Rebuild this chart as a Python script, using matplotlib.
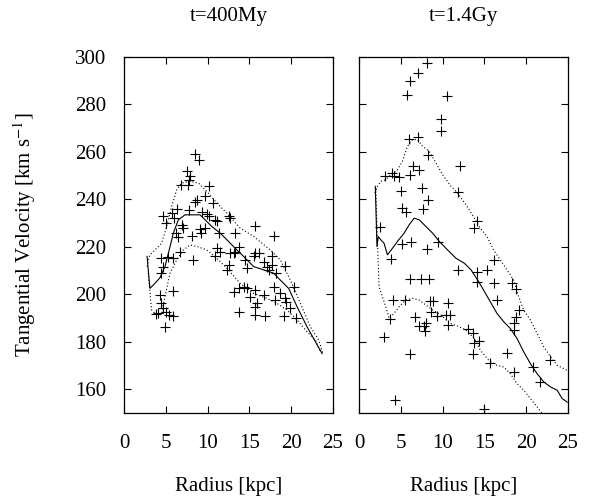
import matplotlib
matplotlib.use("Agg")
import matplotlib.pyplot as plt

plt.rcParams['font.family'] = ['Liberation Serif', 'DejaVu Serif']
plt.rcParams['mathtext.fontset'] = 'stix'

# ---------------- left panel: t=400My ----------------
l_mean_r = [2.76, 3.1, 3.7, 4.3, 4.9, 5.5, 5.9, 6.5, 7.3, 8.3, 9.1, 9.7, 10.5, 11.5, 12.5,
            13.5, 14.3, 15.5, 16.7, 17.9, 18.7, 19.7, 20.7, 21.9, 22.9, 23.7]
l_mean_v = [216, 202.5, 204.6, 207, 211.7, 220, 225.8, 231.4, 233.5, 233.5, 233.5, 231.4, 228.6,
            225.8, 222.3, 218.7, 216, 211.7, 210.3, 208.9, 206, 202.5, 194.8, 186.3, 180, 175]

l_up_r = [2.76, 3.1, 3.7, 4.5, 5.1, 5.7, 6.3, 6.9, 7.9, 8.9, 9.9, 11.1, 12.3, 13.9, 15.5,
          17.5, 18.7, 19.9, 21.1, 22.3, 23.3, 23.8]
l_up_v = [211.7, 216.6, 218.7, 221.5, 228.6, 237, 244, 246.9, 247.6, 246.9, 243.4, 238.5, 234.2,
          227.9, 224.4, 218.7, 214.5, 206, 196.2, 186.3, 180.7, 175]

l_lo_r = [2.9, 3.3, 3.9, 4.5, 4.9, 5.5, 6.3, 7.1, 7.9, 8.9, 9.9, 11.1, 12.3, 13.9, 15.5,
          17.1, 18.3, 19.5, 20.7, 21.9, 22.9, 23.5]
l_lo_v = [209, 193.4, 191.3, 192, 199, 208.9, 214.5, 218.7, 220.8, 220, 218.7, 215.2, 211, 204.6,
          200.4, 198.3, 196.2, 193.4, 189.2, 184.2, 180.7, 175.8]

l_pts_r = [8.48, 8.96, 7.5, 7.9, 7.8, 6.76, 7.68, 10.2, 8.7, 9.7, 8.5, 10.7, 4.68, 5.0, 5.76,
           6.28, 5.96, 7.8, 9.28, 9.88, 10.2, 10.9, 11.1, 12.5, 12.7, 15.7, 17.9, 6.88, 7.0,
           6.2, 6.5, 8.1, 9.08, 9.7, 9.16, 11.4, 13.3, 6.68, 5.88, 5.28, 4.48, 4.68, 4.48, 8.2,
           11.1, 11.5, 10.9, 12.7, 13.1, 13.8, 12.3, 12.6, 13.3, 14.5, 14.7, 15.7, 16.1, 15.5,
           16.7, 17.1, 17.3, 17.7, 17.7, 18.2, 19.3, 17.9, 18.1, 18.7, 19.3, 19.4, 20.3, 13.1,
           13.7, 14.3, 14.7, 15.1, 15.7, 15.7, 15.7, 15.9, 16.7, 13.7, 16.9, 19.1, 19.9, 20.6,
           4.28, 4.48, 4.68, 5.08, 5.4, 5.88, 4.08, 3.8, 4.88, 5.88]
l_pts_v = [259.2, 256.5, 252.1, 249.7, 248.3, 246.2, 245.9, 245.5, 239.9, 241.5, 238.7, 238.5,
           232.8, 230, 234.2, 235.9, 232.1, 235.6, 234.6, 233.9, 232.8, 231.4, 230.7, 233.1,
           232.1, 228.9, 224.4, 229.4, 228, 226, 224.1, 224.4, 227.5, 228, 226, 226, 225.8, 218,
           215.2, 215.9, 215.2, 211.7, 208.9, 214.5, 219.4, 218, 216, 217.3, 217.3, 220, 210.3,
           212.4, 218, 214.5, 211, 217.3, 217.3, 216, 213.8, 211.7, 210.3, 212.4, 216, 208.9,
           212, 203, 197.6, 200.4, 198.3, 196.9, 203.2, 201.1, 202.5, 203.2, 202.5, 199, 201.8,
           194.8, 191.3, 196.2, 199.7, 192.7, 190.8, 190.8, 194.1, 189.9, 199.7, 196.2, 194.1,
           192.7, 191.3, 190.8, 192.2, 191.7, 186.1, 201.5]

# ---------------- right panel: t=1.4Gy ----------------
r_mean_r = [1.95, 2.15, 2.3, 2.6, 3.0, 3.4, 4.0, 4.6, 5.4, 6.0, 6.6, 7.2, 8.0, 8.8, 9.6, 10.6,
            11.6, 12.6, 13.4, 14.2, 14.9, 15.7, 16.5, 17.3, 18.1, 18.9, 19.7, 20.5, 21.3, 22.1,
            22.9, 23.7, 24.3, 24.9]
r_mean_v = [245.5, 220, 224.4, 223, 221.5, 216.6, 219.4, 222.3, 225.8, 229.3, 232.1, 231.4,
            228.6, 225.8, 222.3, 218.7, 215.2, 213.1, 210.3, 206, 201.8, 196.9, 192, 188.5,
            185.6, 181.4, 175.8, 170.8, 166.6, 163.1, 161, 159.6, 156.1, 154.6]

r_up_r = [1.9, 2.2, 2.6, 3.2, 3.8, 4.6, 5.2, 5.8, 6.4, 7.0, 7.6, 8.4, 9.2, 10.0, 11.0, 11.8,
          12.8, 13.8, 14.5, 15.3, 16.1, 16.9, 17.7, 18.5, 19.1, 19.7, 20.5, 21.3, 22.1, 22.9,
          23.7, 24.9]
r_up_v = [242.7, 245.5, 247.6, 248.3, 250.4, 252.5, 256.1, 262.4, 265.2, 265.2, 262.4, 260.3,
          255.4, 250.4, 245.5, 242.7, 237.7, 232.1, 227.9, 224.4, 218.7, 214.5, 210.3, 206, 199,
          193.4, 189.2, 183.5, 177.9, 173.7, 170.1, 168]

r_lo_r = [2.0, 2.2, 2.4, 2.8, 3.2, 3.6, 4.2, 4.8, 5.6, 6.4, 7.2, 8.0, 8.8, 9.8, 10.9, 12.0,
          12.8, 13.8, 14.5, 15.5, 16.5, 17.3, 18.1, 18.9, 19.7, 20.5, 21.3, 21.9]
r_lo_v = [244.8, 223, 203.2, 199, 194.8, 189.9, 192, 194.8, 197.6, 198.3, 197.6, 195.5, 193.4,
          191.3, 187.8, 186.3, 184.9, 181.4, 176.5, 172.3, 170.1, 169.4, 166.6, 162.4, 159.6,
          156.1, 152.6, 149.8]

r_pts_r = [8.11, 7.0, 6.12, 5.73, 10.5, 9.78, 9.78, 6.0, 7.0, 8.27, 12.09, 6.4, 6.12, 7.2, 3.1,
           4.0, 4.2, 4.8, 5.0, 7.5, 11.8, 8.2, 5.2, 5.6, 7.6, 14.1, 13.8, 2.5, 5.1, 6.2, 8.1,
           9.5, 3.8, 16.2, 11.8, 14.1, 15.3, 14.1, 16.2, 18.3, 18.8, 6.12, 7.4, 8.4, 16.5, 4.1,
           5.5, 8.5, 8.8, 10.6, 3.7, 6.7, 7.2, 7.8, 8.0, 7.9, 9.3, 10.4, 10.9, 10.6, 8.6, 13.0,
           13.6, 13.8, 14.3, 13.6, 18.8, 18.6, 18.5, 19.1, 3.0, 6.1, 15.7, 17.7, 18.6, 20.8,
           22.9, 21.7, 4.3, 15.0]
r_pts_v = [297.3, 293.4, 289.9, 283.8, 283.5, 273.9, 268.7, 265.6, 266.3, 258.9, 253.9, 253.9,
           250.4, 252.5, 249.7, 251.1, 250, 249.4, 243.4, 244.8, 243, 239.6, 236.3, 234.9,
           235.9, 230.7, 227.9, 228.2, 221.3, 222, 219, 222, 214.9, 214.5, 210.3, 209.6, 210.3,
           205.4, 204.6, 204.6, 202.1, 206.3, 206.3, 206.3, 197.6, 197.6, 197.6, 197.2, 197.2,
           196.2, 189.7, 190.6, 186.6, 186.6, 187.8, 184.5, 191, 191.3, 191.3, 187, 192.7,
           185.6, 183.5, 179.6, 180.3, 175, 190.6, 187.8, 185, 193.4, 182.1, 174.8, 171.1,
           175.4, 167.3, 169.2, 172.5, 163.1, 155.6, 151.8]

titles = ["t=400My", "t=1.4Gy"]
xticks = [0, 5, 10, 15, 20, 25]
yticks = [160, 180, 200, 220, 240, 260, 280, 300]

fig = plt.figure(figsize=(5.92, 5.0), dpi=100)
W, H = 592.0, 500.0
ax1 = fig.add_axes([124 / W, (H - 413) / H, 209 / W, 356 / H])
ax2 = fig.add_axes([359 / W, (H - 413) / H, 209 / W, 356 / H])

panels = [
    (ax1, l_mean_r, l_mean_v, l_up_r, l_up_v, l_lo_r, l_lo_v, l_pts_r, l_pts_v),
    (ax2, r_mean_r, r_mean_v, r_up_r, r_up_v, r_lo_r, r_lo_v, r_pts_r, r_pts_v),
]
FS = 15
for i, (ax, mr, mv, ur, uv, lr, lv, pr, pv) in enumerate(panels):
    ax.plot(mr, mv, color='black', lw=0.8, solid_joinstyle='miter')
    ax.plot(ur, uv, color='black', lw=0.8, linestyle=(0, (1, 2)))
    ax.plot(lr, lv, color='black', lw=0.8, linestyle=(0, (1, 2)))
    ax.plot(pr, pv, linestyle='none', marker='+', color='black', markersize=7,
            markeredgewidth=0.8)
    ax.set_xlim(0, 25)
    ax.set_ylim(150, 300)
    ax.set_xticks(xticks)
    ax.set_yticks(yticks)
    ax.tick_params(direction='in', top=True, right=True, length=5, width=0.8,
                   labelsize=FS, pad=13)
    ax.tick_params(axis='x', pad=15)
    for sp in ax.spines.values():
        sp.set_linewidth(0.9)
    if i == 1:
        ax.tick_params(labelleft=False)
    cx = ax.get_position().x0 + ax.get_position().width / 2
    fig.text(cx, 1 - 17 / H, titles[i], ha='center', va='center', fontsize=FS)
    fig.text(cx, 1 - 487 / H, "Radius [kpc]", ha='center', va='center', fontsize=FS)

fig.text(25 / W, 1 - 235 / H, r"Tangential Velocity [km s$^{-1}$]", rotation=90,
         ha='center', va='center', fontsize=FS)

fig.savefig("out.png", dpi=100)
